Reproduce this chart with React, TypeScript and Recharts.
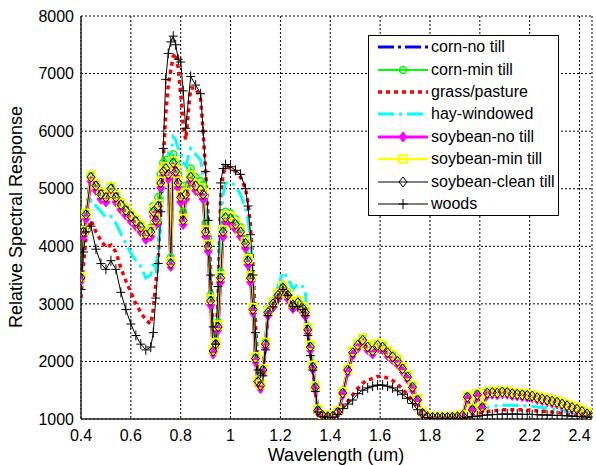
import React from "react";
import { LineChart, Line, XAxis, YAxis, CartesianGrid } from "recharts";

const wavelength = [
  0.40, 0.41, 0.42, 0.44, 0.46, 0.48, 0.50, 0.52, 0.54, 0.56,
  0.58, 0.60, 0.62, 0.64, 0.66, 0.68, 0.69, 0.70, 0.71, 0.72,
  0.73, 0.74, 0.75, 0.76, 0.77, 0.78, 0.79, 0.80, 0.81, 0.82,
  0.84, 0.86, 0.88, 0.89, 0.90, 0.91, 0.92, 0.93, 0.94, 0.95,
  0.96, 0.97, 0.98, 1.00, 1.02, 1.04, 1.06, 1.07, 1.08, 1.09,
  1.10, 1.11, 1.12, 1.13, 1.14, 1.15, 1.17, 1.19, 1.21, 1.23,
  1.25, 1.27, 1.29, 1.30, 1.31, 1.32, 1.33, 1.34, 1.35, 1.37,
  1.39, 1.41, 1.43, 1.45, 1.47, 1.49, 1.51, 1.53, 1.55, 1.57,
  1.59, 1.61, 1.63, 1.65, 1.67, 1.69, 1.71, 1.73, 1.75, 1.77,
  1.79, 1.81, 1.83, 1.85, 1.87, 1.89, 1.91, 1.93, 1.95, 1.97,
  1.99, 2.01, 2.03, 2.05, 2.07, 2.09, 2.11, 2.13, 2.15, 2.17,
  2.19, 2.21, 2.23, 2.25, 2.27, 2.29, 2.31, 2.33, 2.35, 2.37,
  2.39, 2.41, 2.43, 2.45,
];

const cornNoTill = [
  3500, 4300, 4600, 5250, 5120, 4980, 4950, 5080, 4950, 4800,
  4700, 4600, 4500, 4400, 4260, 4300, 4650, 4500, 4750, 5150,
  5350, 5380, 5280, 3750, 5480, 5320, 5120, 4880, 4480, 4920,
  5220, 5080, 5000, 4920, 4280, 4020, 3080, 2200, 2320, 2620,
  3480, 4280, 4520, 4500, 4400, 4270, 4070, 3770, 3470, 2920,
  2070, 1670, 1600, 1870, 2320, 2870, 3020, 3170, 3300, 3170,
  3000, 3040, 2940, 2870, 2570, 2270, 1920, 1570, 1160, 1070,
  1050, 1060, 1130, 1460, 1870, 2170, 2300, 2390, 2270, 2200,
  2300, 2270, 2170, 2100, 2020, 1890, 1750, 1570, 1340, 1110,
  1050, 1040, 1040, 1040, 1040, 1040, 1050, 1070, 1390, 1170,
  1430, 1210, 1460, 1470, 1460, 1480, 1470, 1450, 1440, 1430,
  1420, 1410, 1380, 1360, 1340, 1320, 1300, 1270, 1240, 1210,
  1180, 1140, 1100, 1070,
];

const cornMinTill = [
  3480, 4280, 4580, 5230, 5100, 4950, 4900, 5050, 4900, 4770,
  4670, 4570, 4480, 4380, 4250, 4320, 4700, 4550, 4850, 5250,
  5450, 5500, 5400, 3800, 5600, 5450, 5250, 5000, 4600, 5050,
  5350, 5200, 5130, 5050, 4400, 4150, 3150, 2230, 2350, 2680,
  3550, 4350, 4600, 4570, 4470, 4330, 4120, 3820, 3500, 2950,
  2080, 1680, 1610, 1880, 2330, 2900, 3050, 3200, 3330, 3200,
  3030, 3070, 2970, 2900, 2590, 2280, 1930, 1570, 1160, 1070,
  1050, 1060, 1130, 1470, 1880, 2190, 2320, 2410, 2290, 2220,
  2320, 2290, 2190, 2120, 2040, 1900, 1760, 1580, 1350, 1110,
  1050, 1040, 1040, 1040, 1040, 1040, 1050, 1070, 1400, 1180,
  1440, 1220, 1470, 1480, 1470, 1490, 1480, 1460, 1450, 1440,
  1430, 1420, 1390, 1370, 1350, 1330, 1310, 1280, 1250, 1220,
  1190, 1150, 1110, 1070,
];

const grassPasture = [
  3100, 3700, 4150, 4450, 4250, 4100, 3980, 4020, 3900, 3620,
  3400, 3200, 3000, 2850, 2720, 2650, 2900, 3350, 3800, 4600,
  5500, 6300, 6800, 7050, 7300, 7350, 7100, 6650, 6100, 5850,
  6750, 6750, 6550, 6000, 5300, 4500, 3600, 2500, 2250, 3100,
  4800, 5250, 5380, 5360, 5300, 5200, 5000, 4750, 4350, 3650,
  2650, 1900, 1780, 1800, 2250, 2800, 2950, 3100, 3250, 3150,
  2950, 2980, 2900, 2800, 2480, 2150, 1850, 1500, 1130, 1050,
  1030, 1040, 1090, 1200, 1300, 1420, 1530, 1620, 1680, 1700,
  1740, 1740, 1710, 1670, 1600, 1520, 1420, 1320, 1200, 1090,
  1030, 1020, 1020, 1020, 1020, 1020, 1020, 1020, 1060, 1080,
  1100, 1110, 1130, 1140, 1150, 1160, 1160, 1160, 1160, 1160,
  1150, 1150, 1140, 1140, 1130, 1120, 1110, 1100, 1090, 1080,
  1070, 1060, 1050, 1040,
];

const hayWindowed = [
  3400, 4100, 4500, 4800, 4700, 4600, 4500, 4520, 4400, 4220,
  4050, 3880, 3750, 3650, 3450, 3500, 3700, 3600, 4000, 4500,
  5000, 5400, 5600, 5500, 5900, 5850, 5700, 5650, 5450, 5400,
  5700, 5600, 5500, 5200, 4700, 4300, 3400, 2400, 2250, 2900,
  4200, 4900, 5100, 5120, 5050, 4900, 4650, 4450, 4150, 3400,
  2400, 1800, 1650, 1850, 2350, 2950, 3100, 3300, 3550, 3450,
  3250, 3350, 3300, 3200, 2700, 2300, 2000, 1600, 1150, 1050,
  1030, 1040, 1100, 1400, 1800, 2100, 2200, 2280, 2200, 2150,
  2220, 2200, 2100, 2020, 1930, 1800, 1660, 1480, 1280, 1080,
  1020, 1020, 1020, 1020, 1020, 1020, 1020, 1020, 1150, 1100,
  1180, 1150, 1200, 1220, 1230, 1240, 1240, 1240, 1235, 1230,
  1225, 1220, 1210, 1200, 1190, 1175, 1160, 1145, 1130, 1115,
  1100, 1080, 1060, 1040,
];

const soybeanNoTill = [
  3400, 4180, 4480, 5130, 4970, 4820, 4770, 4920, 4770, 4640,
  4540, 4440, 4350, 4250, 4120, 4170, 4520, 4370, 4620, 5020,
  5220, 5270, 5170, 3650, 5370, 5220, 5020, 4770, 4380, 4820,
  5120, 4970, 4900, 4820, 4170, 3920, 2980, 2130, 2250, 2550,
  3380, 4170, 4420, 4400, 4300, 4170, 3970, 3680, 3380, 2850,
  2000, 1600, 1530, 1800, 2250, 2800, 2940, 3090, 3220, 3090,
  2920, 2960, 2860, 2790, 2500, 2200, 1860, 1510, 1120, 1040,
  1030, 1040, 1100, 1420, 1810, 2110, 2230, 2320, 2200, 2130,
  2230, 2200, 2100, 2030, 1950, 1830, 1690, 1510, 1300, 1080,
  1030, 1020, 1020, 1020, 1020, 1020, 1030, 1050, 1350, 1140,
  1390, 1180, 1420, 1430, 1420, 1440, 1430, 1410, 1400, 1390,
  1380, 1370, 1340, 1320, 1300, 1280, 1260, 1230, 1200, 1170,
  1140, 1100, 1070, 1040,
];

const soybeanMinTill = [
  3470, 4270, 4570, 5230, 5080, 4930, 4880, 5030, 4880, 4750,
  4650, 4550, 4460, 4360, 4230, 4280, 4630, 4480, 4730, 5130,
  5330, 5380, 5280, 3730, 5480, 5330, 5130, 4880, 4480, 4930,
  5230, 5080, 5010, 4930, 4280, 4030, 3080, 2200, 2320, 2630,
  3480, 4280, 4530, 4510, 4410, 4280, 4080, 3780, 3480, 2930,
  2080, 1670, 1600, 1870, 2330, 2880, 3030, 3180, 3310, 3180,
  3010, 3050, 2950, 2880, 2580, 2280, 1930, 1570, 1170, 1070,
  1050, 1060, 1140, 1470, 1870, 2180, 2310, 2400, 2280, 2210,
  2310, 2280, 2180, 2110, 2030, 1900, 1760, 1580, 1350, 1120,
  1050, 1040, 1040, 1040, 1040, 1040, 1050, 1070, 1400, 1180,
  1440, 1220, 1470, 1480, 1470, 1490, 1480, 1460, 1450, 1440,
  1430, 1420, 1390, 1370, 1350, 1330, 1310, 1280, 1250, 1220,
  1190, 1150, 1110, 1080,
];

const soybeanCleanTill = [
  3450, 4250, 4550, 5200, 5050, 4900, 4850, 5000, 4850, 4720,
  4620, 4520, 4430, 4330, 4200, 4250, 4600, 4450, 4700, 5100,
  5300, 5350, 5250, 3700, 5450, 5300, 5100, 4850, 4450, 4900,
  5200, 5050, 4980, 4900, 4250, 4000, 3050, 2180, 2300, 2600,
  3450, 4250, 4500, 4480, 4380, 4250, 4050, 3750, 3450, 2900,
  2050, 1650, 1580, 1850, 2300, 2850, 3000, 3150, 3280, 3150,
  2980, 3020, 2920, 2850, 2550, 2250, 1900, 1550, 1150, 1060,
  1040, 1050, 1120, 1450, 1850, 2150, 2280, 2370, 2250, 2180,
  2280, 2250, 2150, 2080, 2000, 1870, 1730, 1550, 1330, 1100,
  1040, 1030, 1030, 1030, 1030, 1030, 1040, 1060, 1380, 1160,
  1420, 1200, 1450, 1460, 1450, 1470, 1460, 1440, 1430, 1420,
  1410, 1400, 1370, 1350, 1330, 1310, 1290, 1260, 1230, 1200,
  1170, 1130, 1090, 1060,
];

const woods = [
  3250, 3900, 4250, 4350, 3950, 3700, 3600, 3750, 3600, 3200,
  2900, 2650, 2450, 2300, 2200, 2250, 2500, 3100, 3700, 4600,
  5700, 6900, 7350, 7550, 7650, 7500, 7250, 7200, 6700, 6050,
  6950, 6800, 6650, 6000, 5300, 4450, 3500, 2600, 2300, 3300,
  5100, 5350, 5420, 5380, 5320, 5250, 5000, 4700, 4200, 3500,
  2500, 1850, 1800, 1750, 2200, 2800, 2950, 3100, 3250, 3150,
  2950, 2950, 2900, 2800, 2450, 2100, 1850, 1480, 1120, 1040,
  1020, 1030, 1080, 1180, 1260, 1330, 1440, 1500, 1540, 1570,
  1590, 1590, 1570, 1540, 1490, 1430, 1360, 1270, 1160, 1070,
  1020, 1010, 1010, 1010, 1010, 1010, 1010, 1010, 1030, 1040,
  1050, 1060, 1070, 1075, 1080, 1085, 1085, 1085, 1085, 1080,
  1080, 1080, 1075, 1070, 1070, 1065, 1060, 1060, 1055, 1050,
  1045, 1040, 1035, 1030,
];

const xTicks = [0.4, 0.6, 0.8, 1.0, 1.2, 1.4, 1.6, 1.8, 2.0, 2.2, 2.4];
const yTicks = [1000, 2000, 3000, 4000, 5000, 6000, 7000, 8000];

const data = wavelength.map((w, i) => ({
  w,
  cornNoTill: cornNoTill[i],
  cornMinTill: cornMinTill[i],
  grassPasture: grassPasture[i],
  hayWindowed: hayWindowed[i],
  soybeanNoTill: soybeanNoTill[i],
  soybeanMinTill: soybeanMinTill[i],
  soybeanCleanTill: soybeanCleanTill[i],
  woods: woods[i],
}));

const FONT = "'Liberation Sans', Arial, sans-serif";

// marker shapes, MATLAB style
type MK = "circle" | "diamondFilled" | "square" | "diamond" | "plus";

function markerShape(kind: MK, cx: number, cy: number, color: string, key?: any) {
  switch (kind) {
    case "circle":
      return <circle key={key} cx={cx} cy={cy} r={3.5} fill="none" stroke={color} strokeWidth={1.5} />;
    case "diamondFilled":
      return <path key={key} d={`M${cx},${cy - 5}L${cx + 4},${cy}L${cx},${cy + 5}L${cx - 4},${cy}Z`} fill={color} stroke={color} strokeWidth={1} />;
    case "square":
      return <rect key={key} x={cx - 4} y={cy - 4} width={8} height={8} fill="none" stroke={color} strokeWidth={1.8} />;
    case "diamond":
      return <path key={key} d={`M${cx},${cy - 5}L${cx + 4},${cy}L${cx},${cy + 5}L${cx - 4},${cy}Z`} fill="none" stroke={color} strokeWidth={1} />;
    case "plus":
      return <path key={key} d={`M${cx - 4.5},${cy}H${cx + 4.5}M${cx},${cy - 5}V${cy + 5}`} stroke={color} strokeWidth={1} />;
  }
}

const dotOf = (kind: MK, color: string) => (p: any) => {
  if (p.cx == null || p.cy == null) return <g key={p.index} />;
  return markerShape(kind, p.cx, p.cy, color, p.index);
};

const series: {
  key: string; name: string; color: string; width: number; dash?: string; marker?: MK;
}[] = [
  { key: "cornNoTill", name: "corn-no till", color: "#0000ff", width: 3, dash: "16 4 3 4" },
  { key: "cornMinTill", name: "corn-min till", color: "#00ff00", width: 2, marker: "circle" },
  { key: "grassPasture", name: "grass/pasture", color: "#ff0000", width: 3.5, dash: "4 4" },
  { key: "hayWindowed", name: "hay-windowed", color: "#00ffff", width: 3, dash: "16 5 3 5" },
  { key: "soybeanNoTill", name: "soybean-no till", color: "#ff00ff", width: 3, marker: "diamondFilled" },
  { key: "soybeanMinTill", name: "soybean-min till", color: "#ffff00", width: 2.5, marker: "square" },
  { key: "soybeanCleanTill", name: "soybean-clean till", color: "#000000", width: 1, marker: "diamond" },
  { key: "woods", name: "woods", color: "#000000", width: 1, marker: "plus" },
];

const YTitle = () => (
  <text x={16} y={217} transform="rotate(-90 16 217)" textAnchor="middle" dominantBaseline="central"
    fontFamily={FONT} fontSize={18} fill="#000">
    Relative Spectral Response
  </text>
);

const XTitle = () => (
  <text x={336} y={461} textAnchor="middle" fontFamily={FONT} fontSize={18} fill="#000">
    Wavelength (um)
  </text>
);

function LegendBox() {
  return (
    <div style={{
      position: "absolute", left: 368, top: 35, width: 189, height: 179,
      border: "1px solid #000", background: "#fff", fontFamily: FONT, fontSize: 16,
    }}>
      {series.map((s) => (
        <div key={s.key} style={{ height: 22.4, display: "flex", alignItems: "center", whiteSpace: "nowrap" }}>
          <svg width={62} height={22} style={{ flex: "none" }}>
            <line x1={9} y1={11} x2={59} y2={11} stroke={s.color} strokeWidth={s.width}
              strokeDasharray={s.dash} />
            {s.marker && markerShape(s.marker, 34, 11, s.color)}
          </svg>
          <span style={{ color: "#000" }}>{s.name}</span>
        </div>
      ))}
    </div>
  );
}

export default function App() {
  return (
    <div style={{ position: "absolute", left: 0, top: 0, width: 596, height: 465, background: "#fff" }}>
      <LineChart width={596} height={465} data={data} margin={{ top: 16, right: 4, left: 0, bottom: 0 }}>
        <CartesianGrid stroke="#000" strokeDasharray="2 2" strokeWidth={1} />
        <XAxis
          dataKey="w" type="number" domain={[0.4, 2.45]} ticks={xTicks} height={46}
          tickFormatter={(v: number) => String(+v.toFixed(1))}
          tick={{ fontFamily: FONT, fontSize: 16, fill: "#000" }}
          tickLine={false} tickSize={6} tickMargin={5}
          axisLine={{ stroke: "#262626", strokeWidth: 1.5 }}
          allowDataOverflow
          label={<XTitle />}
        />
        <YAxis
          type="number" domain={[1000, 8000]} ticks={yTicks} width={81}
          tick={{ fontFamily: FONT, fontSize: 16, fill: "#000" }}
          tickLine={false} tickSize={6} tickMargin={1}
          axisLine={{ stroke: "#262626", strokeWidth: 1.5 }}
          allowDataOverflow
          label={<YTitle />}
        />
        {series.map((s) => (
          <Line
            key={s.key}
            type="linear"
            dataKey={s.key}
            stroke={s.color}
            strokeWidth={s.width}
            strokeDasharray={s.dash}
            dot={s.marker ? dotOf(s.marker, s.color) : false}
            activeDot={false}
            isAnimationActive={false}
          />
        ))}
      </LineChart>
      <LegendBox />
    </div>
  );
}
